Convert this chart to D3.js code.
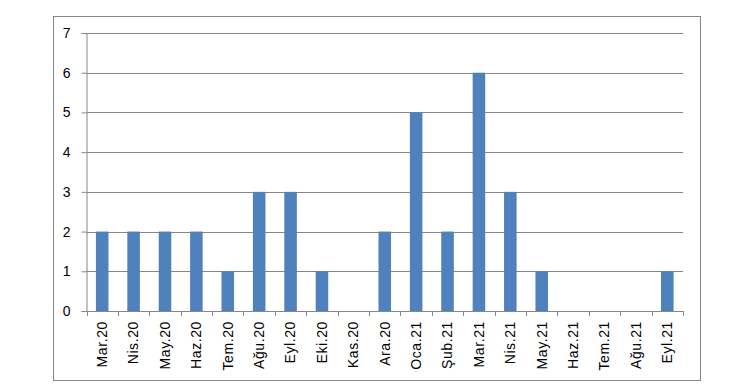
<!DOCTYPE html>
<html lang="tr">
<head>
  <meta charset="UTF-8">
  <title>Aylık dağılım</title>
  <script src="https://d3js.org/d3.v7.min.js"></script>
  <style>
    body { margin: 0; background: #fff; }
    text { font-family: "Liberation Sans", Arial, sans-serif; font-size: 14px; fill: #000; }
    .xl { letter-spacing: 0.6px; }
  </style>
</head>
<body>
  <script>
    const months = ["Mar.20", "Nis.20", "May.20", "Haz.20", "Tem.20", "Ağu.20", "Eyl.20", "Eki.20", "Kas.20", "Ara.20",
      "Oca.21", "Şub.21", "Mar.21", "Nis.21", "May.21", "Haz.21", "Tem.21", "Ağu.21", "Eyl.21"];
    const counts = [2, 2, 2, 2, 1, 3, 3, 1, 0, 2, 5, 2, 6, 3, 1, 0, 0, 0, 1];
    const yTicks = [0, 1, 2, 3, 4, 5, 6, 7];

    const width = 737, height = 389;
    const plot = { left: 86.5, right: 683, top: 33, bottom: 311 };
    const grey = "#868686";

    const svg = d3.select("body").append("svg")
      .attr("width", width)
      .attr("height", height);

    // outer chart border
    svg.append("rect")
      .attr("x", 53.5).attr("y", 16.5)
      .attr("width", 647).attr("height", 364)
      .attr("fill", "none").attr("stroke", grey);

    const x = d3.scaleBand().domain(months).range([plot.left, plot.right]);
    const y = d3.scaleLinear().domain([0, 7]).range([plot.bottom, plot.top]);

    // gridlines
    svg.append("g").selectAll("line")
      .data(yTicks.slice(1))
      .join("line")
      .attr("x1", plot.left).attr("x2", plot.right)
      .attr("y1", d => Math.round(y(d)) + 0.5).attr("y2", d => Math.round(y(d)) + 0.5)
      .attr("stroke", grey);

    // bars
    const barW = x.bandwidth() * 0.4;
    svg.append("g").selectAll("rect")
      .data(counts)
      .join("rect")
      .attr("x", (d, i) => x(months[i]) + (x.bandwidth() - barW) / 2)
      .attr("y", d => y(d))
      .attr("width", barW)
      .attr("height", d => y(0) - y(d))
      .attr("fill", "#4F81BD");

    // y axis
    const yAxis = svg.append("g")
      .attr("transform", `translate(${plot.left},0)`)
      .call(d3.axisLeft(y).tickValues(yTicks).tickSize(5).tickPadding(11).tickFormat(d3.format("d")));
    yAxis.attr("font-family", null).attr("font-size", null);
    yAxis.select(".domain").attr("stroke", grey);
    yAxis.selectAll(".tick line").attr("stroke", grey);

    // x axis: baseline and boundary ticks
    const xg = svg.append("g");
    xg.append("line")
      .attr("x1", plot.left).attr("x2", plot.right)
      .attr("y1", plot.bottom + 0.5).attr("y2", plot.bottom + 0.5)
      .attr("stroke", grey);
    const bounds = months.map(m => x(m)).concat([plot.right]);
    xg.selectAll("line.b")
      .data(bounds)
      .join("line")
      .attr("class", "b")
      .attr("x1", d => Math.round(d) + 0.5).attr("x2", d => Math.round(d) + 0.5)
      .attr("y1", plot.bottom).attr("y2", plot.bottom + 5)
      .attr("stroke", grey);

    xg.selectAll("text")
      .data(months)
      .join("text")
      .attr("class", "xl")
      .attr("transform", d => `translate(${x(d) + x.bandwidth() / 2},${plot.bottom + 10}) rotate(-90)`)
      .attr("text-anchor", "end")
      .attr("dy", "0.35em")
      .text(d => d);
  </script>
</body>
</html>
